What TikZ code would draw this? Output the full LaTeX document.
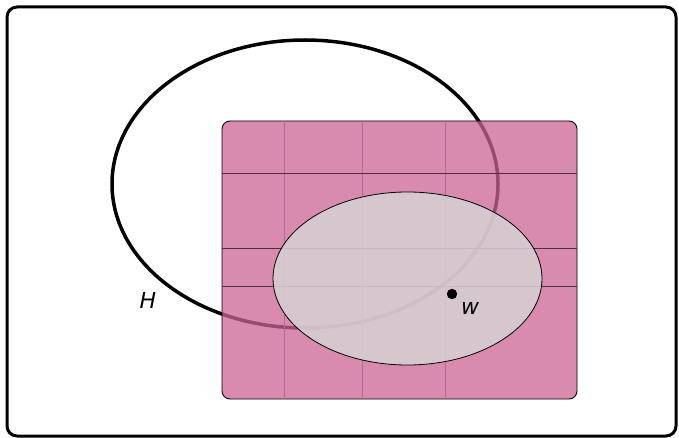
\documentclass[tikz,border=0pt]{standalone}
\usepackage{fontspec}
\setmainfont{DejaVu Sans}
\definecolor{pinkfill}{RGB}{203,99,149}
\definecolor{greyfill}{RGB}{214,208,212}
\definecolor{hline}{RGB}{70,50,65}
\definecolor{vline}{RGB}{185,105,145}
\tikzset{
  outerbox/.style={draw=black, line width=3pt, rounded corners=10pt},
  pinkbox/.style={draw=black, line width=0.9pt, fill=pinkfill, fill opacity=0.75, rounded corners=8pt},
  hgrid/.style={draw=hline, line width=0.8pt},
  vgrid/.style={draw=vline, line width=0.6pt},
  bigell/.style={draw=black, line width=3.5pt},
  greyell/.style={draw=black, line width=0.8pt, fill=greyfill, fill opacity=0.88},
  lbl/.style={font=\fontsize{22}{24}\selectfont\itshape, inner sep=0pt}
}
\begin{document}
\begin{tikzpicture}[x=1pt,y=-1pt]
\useasboundingbox (0,0) rectangle (679,438);
\fill[white] (0,0) rectangle (679,438);
\draw[outerbox] (7,7) rectangle (676,436);
% big ellipse H
\draw[bigell] (305,184) ellipse [x radius=193, y radius=144];
% pink rectangle
\path[pinkbox] (222,121) rectangle (577,399);
% grid lines
\coordinate (h1l) at (222,173); \coordinate (h1r) at (577,173);
\coordinate (h2l) at (222,248); \coordinate (h2r) at (577,248);
\coordinate (h3l) at (222,286); \coordinate (h3r) at (577,286);
\coordinate (v1t) at (284,121); \coordinate (v1b) at (284,399);
\coordinate (v2t) at (362,121); \coordinate (v2b) at (362,399);
\coordinate (v3t) at (445,121); \coordinate (v3b) at (445,399);
\draw[vgrid] (v1t) -- (v1b);
\draw[vgrid] (v2t) -- (v2b);
\draw[vgrid] (v3t) -- (v3b);
\draw[hgrid] (h1l) -- (h1r);
\draw[hgrid] (h2l) -- (h2r);
\draw[hgrid] (h3l) -- (h3r);
% grey ellipse
\draw[greyell] (407.5,278.5) ellipse [x radius=134.5, y radius=86.5];
% point w
\fill (452,294) circle (5.2);
\node[lbl] (w) at (470,308) {w};
\node[lbl] (H) at (148,300) {H};
\end{tikzpicture}
\end{document}
